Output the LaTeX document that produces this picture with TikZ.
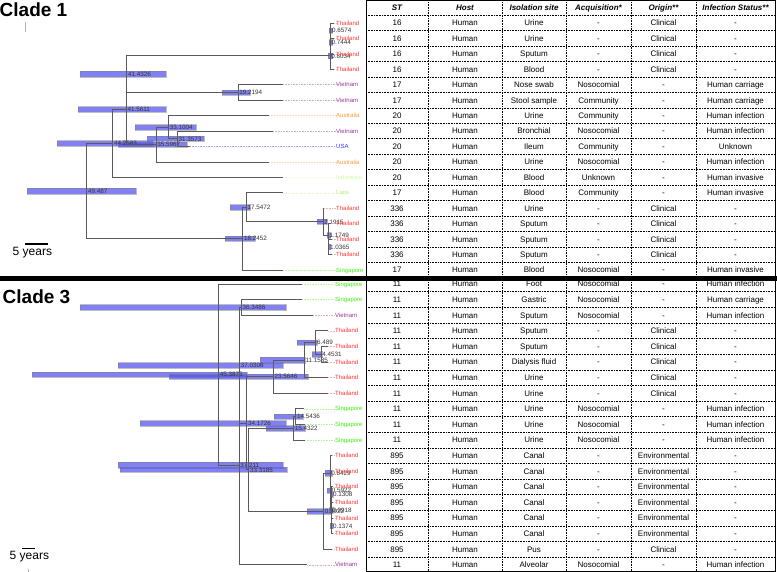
\documentclass[tikz,border=0pt]{standalone}
\usepackage{fontspec}
\setmainfont{Liberation Sans}
\definecolor{thai}{HTML}{FF3333}
\definecolor{viet}{HTML}{993399}
\definecolor{aus}{HTML}{FF9933}
\definecolor{usa}{HTML}{3333FF}
\definecolor{indo}{HTML}{D4F7A4}
\definecolor{laos}{HTML}{A6F26E}
\definecolor{sing}{HTML}{44EE11}
\definecolor{hpdblue}{HTML}{5050EE}
\definecolor{branchgrey}{HTML}{5A5A5A}
\tikzset{
  branch/.style={draw=branchgrey, line width=0.7pt},
  tipline/.style={draw=#1!40, densely dotted, line width=0.6pt},
  tiplabel/.style={anchor=west, inner sep=0pt, text height=4.3pt, text depth=0pt,
                   text=#1, font=\fontsize{6}{6}\selectfont},
  agelabel/.style={anchor=west, inner xsep=1.2pt, inner ysep=0pt, text height=4.5pt,
                   text depth=0pt, text=black!80, font=\fontsize{6.3}{6.3}\selectfont},
  hpd/.style={fill=hpdblue, fill opacity=0.72, draw=gray, draw opacity=0.5, line width=0.4pt},
  cell/.style={inner sep=0pt, text height=5.8pt, text depth=0pt, font=\fontsize{8}{8}\selectfont},
  headcell/.style={cell, font=\fontsize{8}{8}\selectfont\bfseries\itshape},
  rowline/.style={densely dotted, line width=0.6pt},
  cladetitle/.style={anchor=base west, inner sep=0pt, font=\fontsize{19}{19}\selectfont\bfseries},
  scaletext/.style={anchor=west, inner sep=0pt, font=\fontsize{12}{12}\selectfont},
}

\begin{document}
\begin{tikzpicture}[x=1pt,y=-1pt]
\useasboundingbox (0,0) rectangle (777,572);

% clade 1
\node[cladetitle] (clade1) at (-0.5,17) {Clade 1};
\draw[gray!60, line width=0.5pt] (25,22) -- (25,32);
\foreach \xa/\xb/\yc in {329/332.5/30.72, 329/332.5/42.3, 328/332.5/55.81, 80/166/74.15,
    222/250/92.48, 78/166/109.37, 135/196/127.22, 147/204/138.8, 57/153/143.39,
    118/187/144.59, 27/136/191.03, 230/250/207.3, 317/327/221.79, 327/330.5/235.3,
    328/330.5/246.88, 225/255/238.67}
  \draw[hpd] (\xa,\yc-2.7) rectangle (\xb,\yc+2.7);
\foreach \nm/\xn/\yn/\age in {a/330.7/30.72/0.6574, b/330.3/42.3/0.7444, c/330.0/55.81/0.8034,
    d/237.9/92.48/19.2194, e/126.8/74.15/41.4326, f/177.2/138.8/31.3573,
    g/168.5/127.22/33.1004, h/156.0/144.59/35.5967, i/126.2/109.37/41.5611,
    j/112.7/143.39/44.2583, k/328.8/246.88/1.0365, l/328.1/235.3/1.1749,
    m/323.0/221.79/2.1915, n/246.3/207.3/17.5472, o/242.8/238.67/18.2452,
    p/86.6/191.03/49.487} {
  \coordinate (c1n\nm) at (\xn,\yn);
  \node[agelabel] (c1a\nm) at (c1n\nm) {\age};
}
\foreach \yt/\xt/\lab/\col [count=\i] in {23.00/334/Thailand/thai, 38.44/334/Thailand/thai,
    53.88/334/Thailand/thai, 69.32/334/Thailand/thai, 84.76/283/Vietnam/viet,
    100.20/283/Vietnam/viet, 115.64/269/Australia/aus, 131.08/273/Vietnam/viet,
    146.52/190/USA/usa, 161.96/269/Australia/aus, 177.40/283/Indonesia/indo,
    192.84/283/Laos/laos, 208.28/324/Thailand/thai, 223.72/331/Thailand/thai,
    239.16/332/Thailand/thai, 254.60/332/Thailand/thai, 270.04/283/Singapore/sing} {
  \coordinate (c1t\i) at (\xt,\yt);
  \node[tiplabel=\col] (c1l\i) at (336,\yt) {\lab};
  \draw[tipline=\col] (c1t\i) -- (c1l\i.west);
}
\foreach \pa/\ch in {c1np/c1nj, c1np/c1no, c1nj/c1ni, c1nj/c1t11, c1ni/c1ne, c1ni/c1nh,
    c1ne/c1nc, c1ne/c1nd, c1nc/c1nb, c1nc/c1t4, c1nb/c1na, c1nb/c1t3, c1na/c1t1, c1na/c1t2,
    c1nd/c1t5, c1nd/c1t6, c1nh/c1ng, c1nh/c1t10, c1ng/c1t7, c1ng/c1nf, c1nf/c1t8, c1nf/c1t9,
    c1no/c1nn, c1no/c1t17, c1nn/c1t12, c1nn/c1nm, c1nm/c1t13, c1nm/c1nl, c1nl/c1t14,
    c1nl/c1nk, c1nk/c1t15, c1nk/c1t16}
  \draw[branch] (\pa) |- (\ch);
\draw[line width=1.6pt] (25,244) -- (48,244);
\node[scaletext] (scale1) at (12.5,253) {5 years};

% clade 3
\node[cladetitle] (clade3) at (2.5,304) {Clade 3};
\foreach \xa/\xb/\yc in {80/286/307.4, 297/317/342.5, 312/322/354.2, 260/305/360.05,
    118/283/365.3, 32/247/374.5, 169/308/376.63, 274/303/416.6, 140/286/423.2,
    266/305/428.3, 118/283/465.05, 120/287/469.75, 307/331/511.2, 325/332/473.15,
    327/331/490.7, 330/333/494.6, 329/333/510.2, 330/333/525.8}
  \draw[hpd] (\xa,\yc-2.7) rectangle (\xb,\yc+2.7);
\foreach \nm/\xn/\yn/\age in {a/295.6/416.6/14.5436, b/293.4/428.3/15.4322,
    c/320.9/354.2/4.4531, d/315.8/342.5/6.489, e/304.1/360.05/11.1585,
    f/273.1/376.63/23.5646, g/331.7/494.6/0.1308, h/331.7/525.8/0.1374,
    i/331.0/510.2/0.0918, j/330.5/490.7/0.5922, k/329.9/473.15/0.8429,
    l/323.5/511.2/0.9922, m/248.7/469.75/33.3185, n/246.6/423.2/34.1726,
    o/241.1/307.4/36.3486, p/239.4/365.3/37.0306, q/239.0/465.05/37.211,
    r/218.5/374.5/45.3875} {
  \coordinate (c3n\nm) at (\xn,\yn);
  \node[agelabel] (c3a\nm) at (c3n\nm) {\age};
}
\foreach \yt/\xt/\lab/\col [count=\i] in {284.0/302/Singapore/sing, 299.6/302/Singapore/sing,
    315.2/313/Vietnam/viet, 330.8/328/Thailand/thai, 346.4/328/Thailand/thai,
    362.0/328/Thailand/thai, 377.6/328/Thailand/thai, 393.2/328/Thailand/thai,
    408.8/304/Singapore/sing, 424.4/305/Singapore/sing, 440.0/305/Singapore/sing,
    455.6/332/Thailand/thai, 471.2/332/Thailand/thai, 486.8/333/Thailand/thai,
    502.4/333/Thailand/thai, 518.0/333/Thailand/thai, 533.6/333/Thailand/thai,
    549.2/332/Thailand/thai, 564.8/307/Vietnam/viet} {
  \coordinate (c3t\i) at (\xt,\yt);
  \node[tiplabel=\col] (c3l\i) at (335,\yt) {\lab};
  \draw[tipline=\col] (c3t\i) -- (c3l\i.west);
}
\foreach \pa/\ch in {c3nr/c3t1, c3nr/c3nq, c3nq/c3np, c3nq/c3t19, c3np/c3no, c3np/c3nn,
    c3no/c3t2, c3no/c3t3, c3nn/c3nf, c3nn/c3nm, c3nf/c3ne, c3nf/c3t8, c3ne/c3nd, c3ne/c3t7,
    c3nd/c3t4, c3nd/c3nc, c3nc/c3t5, c3nc/c3t6, c3nm/c3nb, c3nm/c3nl, c3nb/c3na, c3nb/c3t11,
    c3na/c3t9, c3na/c3t10, c3nl/c3nk, c3nl/c3t18, c3nk/c3t12, c3nk/c3nj, c3nj/c3t13,
    c3nj/c3ni, c3ni/c3ng, c3ni/c3nh, c3ng/c3t14, c3ng/c3t15, c3nh/c3t16, c3nh/c3t17}
  \draw[branch] (\pa) |- (\ch);
\draw[line width=1.6pt] (22,548.5) -- (34.5,548.5);
\node[scaletext] (scale3) at (9.5,557) {5 years};
\draw[gray!60, line width=0.5pt] (28,569) -- (28,572);

% table
\foreach \hd/\xh in {ST/397, Host/465, Isolation site/534, Acquisition*/598.5,
    Origin**/663.5, Infection Status**/735.5}
  \node[headcell] (h\xh) at (\xh,8) {\hd};
\foreach \st/\hs/\site/\acq/\org/\inf [count=\i] in {
    16/Human/Urine/-/Clinical/-, 16/Human/Urine/-/Clinical/-, 16/Human/Sputum/-/Clinical/-,
    16/Human/Blood/-/Clinical/-, 17/Human/Nose swab/Nosocomial/-/Human carriage,
    17/Human/Stool sample/Community/-/Human carriage, 20/Human/Urine/Community/-/Human infection,
    20/Human/Bronchial/Nosocomial/-/Human infection, 20/Human/Ileum/Community/-/Unknown,
    20/Human/Urine/Nosocomial/-/Human infection, 20/Human/Blood/Unknown/-/Human invasive,
    17/Human/Blood/Community/-/Human invasive, 336/Human/Urine/-/Clinical/-,
    336/Human/Sputum/-/Clinical/-, 336/Human/Sputum/-/Clinical/-, 336/Human/Sputum/-/Clinical/-,
    17/Human/Blood/Nosocomial/-/Human invasive} {
  \pgfmathsetmacro{\yr}{23+15.44*(\i-1)}
  \node[cell] (c1st\i) at (397,\yr) {\st};
  \node[cell] (c1hs\i) at (465,\yr) {\hs};
  \node[cell] (c1si\i) at (534,\yr) {\site};
  \node[cell] (c1aq\i) at (598.5,\yr) {\acq};
  \node[cell] (c1or\i) at (663.5,\yr) {\org};
  \node[cell] (c1in\i) at (735.5,\yr) {\inf};
}
\foreach \st/\hs/\site/\acq/\org/\inf [count=\i] in {
    11/Human/Foot/Nosocomial/-/Human infection, 11/Human/Gastric/Nosocomial/-/Human carriage,
    11/Human/Sputum/Nosocomial/-/Human infection, 11/Human/Sputum/-/Clinical/-,
    11/Human/Sputum/-/Clinical/-, 11/Human/Dialysis fluid/-/Clinical/-,
    11/Human/Urine/-/Clinical/-, 11/Human/Urine/-/Clinical/-,
    11/Human/Urine/Nosocomial/-/Human infection, 11/Human/Urine/Nosocomial/-/Human infection,
    11/Human/Urine/Nosocomial/-/Human infection, 895/Human/Canal/-/Environmental/-,
    895/Human/Canal/-/Environmental/-, 895/Human/Canal/-/Environmental/-,
    895/Human/Canal/-/Environmental/-, 895/Human/Canal/-/Environmental/-,
    895/Human/Canal/-/Environmental/-, 895/Human/Pus/-/Clinical/-,
    11/Human/Alveolar/Nosocomial/-/Human infection} {
  \pgfmathsetmacro{\yr}{284+15.6*(\i-1)}
  \node[cell] (c3st\i) at (397,\yr) {\st};
  \node[cell] (c3hs\i) at (465,\yr) {\hs};
  \node[cell] (c3si\i) at (534,\yr) {\site};
  \node[cell] (c3aq\i) at (598.5,\yr) {\acq};
  \node[cell] (c3or\i) at (663.5,\yr) {\org};
  \node[cell] (c3in\i) at (735.5,\yr) {\inf};
}
\draw[rowline] (366,15.28) -- (775.5,15.28);
\foreach \k in {1,...,16}
  \draw[rowline] (366,15.28+15.44*\k) -- (775.5,15.28+15.44*\k);
\foreach \k in {1,...,18}
  \draw[rowline] (366,276.2+15.6*\k) -- (775.5,276.2+15.6*\k);
\foreach \xc in {428,502,566,631,696}
  \draw[rowline] (\xc,0.5) -- (\xc,571.5);
\draw[line width=0.8pt] (366,0.5) rectangle (775.8,571.6);
\fill (0,276.5) rectangle (777,281.5);
\end{tikzpicture}
\end{document}
